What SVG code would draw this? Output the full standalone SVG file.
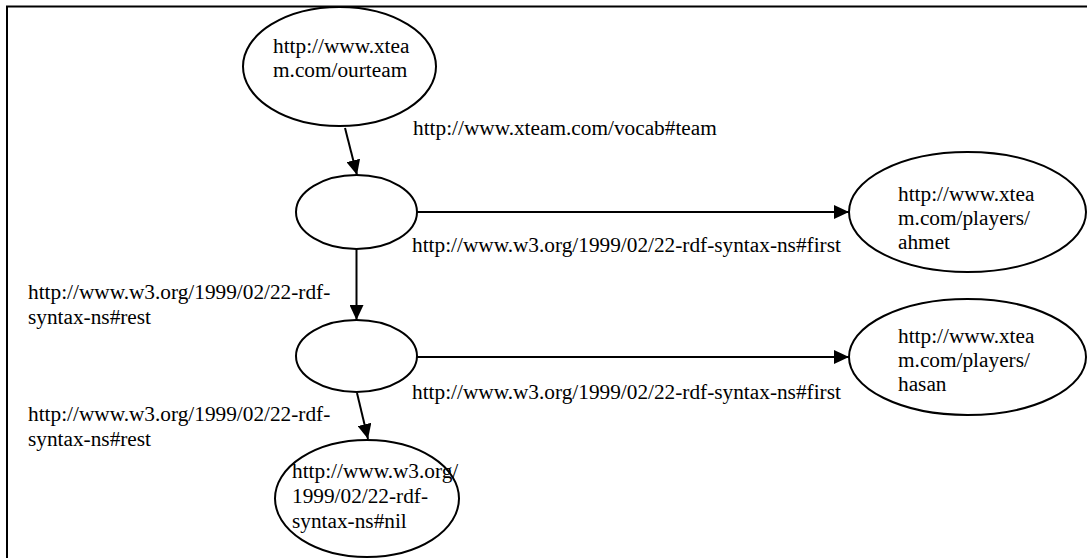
<svg xmlns="http://www.w3.org/2000/svg" width="1087" height="558" viewBox="0 0 1087 558">
  <defs>
    <style>
      .node { fill: #ffffff; stroke: #000000; stroke-width: 2; }
      .edge { fill: none; stroke: #000000; stroke-width: 2; marker-end: url(#arrow); }
      .lbl { font-family: "Liberation Serif", "Times New Roman", serif; font-size: 21.3px; fill: #000000; }
    </style>
    <marker id="arrow" markerUnits="userSpaceOnUse" markerWidth="16" markerHeight="14" refX="15" refY="7" orient="auto">
      <path d="M0,0 L15,7 L0,14 z" fill="#000000"/>
    </marker>
  </defs>

  <rect x="0" y="0" width="1087" height="558" fill="#ffffff"/>
  <!-- outer frame -->
  <rect x="7" y="6.5" width="1100" height="570" fill="none" stroke="#000000" stroke-width="2"/>

  <!-- connectors -->
  <g id="connectors">
    <line class="edge" x1="345" y1="128" x2="357" y2="175"/>
    <line class="edge" x1="417" y1="212" x2="849" y2="212"/>
    <line class="edge" x1="356.5" y1="249" x2="356.5" y2="320"/>
    <line class="edge" x1="417" y1="357" x2="849" y2="357"/>
    <line class="edge" x1="357" y1="393" x2="368" y2="439"/>
    <text class="lbl" x="413" y="135">http://www.xteam.com/vocab#team</text>
    <text class="lbl" x="412" y="252">http://www.w3.org/1999/02/22-rdf-syntax-ns#first</text>
    <text class="lbl" x="412" y="399">http://www.w3.org/1999/02/22-rdf-syntax-ns#first</text>
    <text class="lbl" x="28" y="299">http://www.w3.org/1999/02/22-rdf-</text>
    <text class="lbl" x="28" y="324">syntax-ns#rest</text>
    <text class="lbl" x="28" y="421">http://www.w3.org/1999/02/22-rdf-</text>
    <text class="lbl" x="28" y="446">syntax-ns#rest</text>
  </g>

  <g id="ourteam">
    <ellipse class="node" cx="339.5" cy="66.5" rx="96.5" ry="59.5"/>
    <text class="lbl" x="273" y="53">http://www.xtea</text>
    <text class="lbl" x="273" y="77">m.com/ourteam</text>
  </g>

  <g id="blank1">
    <ellipse class="node" cx="356.5" cy="212" rx="60.5" ry="37"/>
  </g>

  <g id="blank2">
    <ellipse class="node" cx="356.5" cy="356" rx="60.5" ry="36"/>
  </g>

  <g id="ahmet">
    <ellipse class="node" cx="967.5" cy="212" rx="118.5" ry="60"/>
    <text class="lbl" x="898" y="201">http://www.xtea</text>
    <text class="lbl" x="898" y="225">m.com/players/</text>
    <text class="lbl" x="898" y="249">ahmet</text>
  </g>

  <g id="hasan">
    <ellipse class="node" cx="967.5" cy="357" rx="118.5" ry="58"/>
    <text class="lbl" x="898" y="343">http://www.xtea</text>
    <text class="lbl" x="898" y="367">m.com/players/</text>
    <text class="lbl" x="898" y="391">hasan</text>
  </g>

  <g id="nil">
    <ellipse class="node" cx="367" cy="498.5" rx="92" ry="58.5"/>
    <text class="lbl" x="292" y="478">http://www.w3.org/</text>
    <text class="lbl" x="292" y="503">1999/02/22-rdf-</text>
    <text class="lbl" x="292" y="528">syntax-ns#nil</text>
  </g>
</svg>
